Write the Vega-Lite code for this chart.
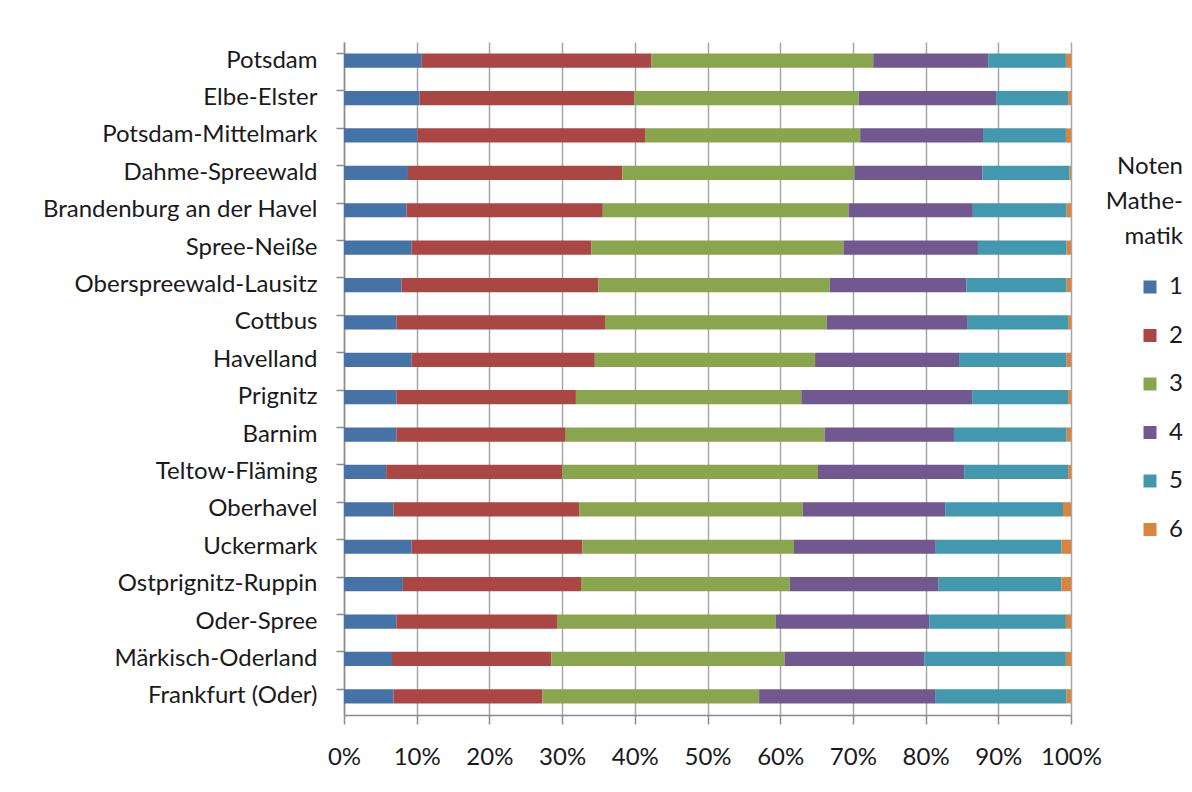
{
  "$schema": "https://vega.github.io/schema/vega-lite/v6.json",
  "width": 727,
  "height": 673,
  "autosize": "none",
  "padding": {"left": 344, "top": 42, "right": 121, "bottom": 77},
  "background": "white",
  "datasets": {
    "noten": [
      {"Kreis": "Potsdam", "Note": "1", "Anteil": 10.7}, {"Kreis": "Potsdam", "Note": "2", "Anteil": 31.6}, {"Kreis": "Potsdam", "Note": "3", "Anteil": 30.5}, {"Kreis": "Potsdam", "Note": "4", "Anteil": 15.8}, {"Kreis": "Potsdam", "Note": "5", "Anteil": 10.7}, {"Kreis": "Potsdam", "Note": "6", "Anteil": 0.7},
      {"Kreis": "Elbe-Elster", "Note": "1", "Anteil": 10.4}, {"Kreis": "Elbe-Elster", "Note": "2", "Anteil": 29.5}, {"Kreis": "Elbe-Elster", "Note": "3", "Anteil": 30.9}, {"Kreis": "Elbe-Elster", "Note": "4", "Anteil": 18.9}, {"Kreis": "Elbe-Elster", "Note": "5", "Anteil": 9.9}, {"Kreis": "Elbe-Elster", "Note": "6", "Anteil": 0.4},
      {"Kreis": "Potsdam-Mittelmark", "Note": "1", "Anteil": 10.1}, {"Kreis": "Potsdam-Mittelmark", "Note": "2", "Anteil": 31.3}, {"Kreis": "Potsdam-Mittelmark", "Note": "3", "Anteil": 29.6}, {"Kreis": "Potsdam-Mittelmark", "Note": "4", "Anteil": 16.9}, {"Kreis": "Potsdam-Mittelmark", "Note": "5", "Anteil": 11.4}, {"Kreis": "Potsdam-Mittelmark", "Note": "6", "Anteil": 0.7},
      {"Kreis": "Dahme-Spreewald", "Note": "1", "Anteil": 8.8}, {"Kreis": "Dahme-Spreewald", "Note": "2", "Anteil": 29.5}, {"Kreis": "Dahme-Spreewald", "Note": "3", "Anteil": 31.9}, {"Kreis": "Dahme-Spreewald", "Note": "4", "Anteil": 17.6}, {"Kreis": "Dahme-Spreewald", "Note": "5", "Anteil": 12.0}, {"Kreis": "Dahme-Spreewald", "Note": "6", "Anteil": 0.2},
      {"Kreis": "Brandenburg an der Havel", "Note": "1", "Anteil": 8.6}, {"Kreis": "Brandenburg an der Havel", "Note": "2", "Anteil": 27.0}, {"Kreis": "Brandenburg an der Havel", "Note": "3", "Anteil": 33.8}, {"Kreis": "Brandenburg an der Havel", "Note": "4", "Anteil": 17.1}, {"Kreis": "Brandenburg an der Havel", "Note": "5", "Anteil": 12.9}, {"Kreis": "Brandenburg an der Havel", "Note": "6", "Anteil": 0.6},
      {"Kreis": "Spree-Neiße", "Note": "1", "Anteil": 9.3}, {"Kreis": "Spree-Neiße", "Note": "2", "Anteil": 24.7}, {"Kreis": "Spree-Neiße", "Note": "3", "Anteil": 34.7}, {"Kreis": "Spree-Neiße", "Note": "4", "Anteil": 18.5}, {"Kreis": "Spree-Neiße", "Note": "5", "Anteil": 12.2}, {"Kreis": "Spree-Neiße", "Note": "6", "Anteil": 0.6},
      {"Kreis": "Oberspreewald-Lausitz", "Note": "1", "Anteil": 7.9}, {"Kreis": "Oberspreewald-Lausitz", "Note": "2", "Anteil": 27.1}, {"Kreis": "Oberspreewald-Lausitz", "Note": "3", "Anteil": 31.8}, {"Kreis": "Oberspreewald-Lausitz", "Note": "4", "Anteil": 18.8}, {"Kreis": "Oberspreewald-Lausitz", "Note": "5", "Anteil": 13.8}, {"Kreis": "Oberspreewald-Lausitz", "Note": "6", "Anteil": 0.6},
      {"Kreis": "Cottbus", "Note": "1", "Anteil": 7.2}, {"Kreis": "Cottbus", "Note": "2", "Anteil": 28.7}, {"Kreis": "Cottbus", "Note": "3", "Anteil": 30.5}, {"Kreis": "Cottbus", "Note": "4", "Anteil": 19.4}, {"Kreis": "Cottbus", "Note": "5", "Anteil": 13.8}, {"Kreis": "Cottbus", "Note": "6", "Anteil": 0.4},
      {"Kreis": "Havelland", "Note": "1", "Anteil": 9.3}, {"Kreis": "Havelland", "Note": "2", "Anteil": 25.2}, {"Kreis": "Havelland", "Note": "3", "Anteil": 30.3}, {"Kreis": "Havelland", "Note": "4", "Anteil": 19.8}, {"Kreis": "Havelland", "Note": "5", "Anteil": 14.8}, {"Kreis": "Havelland", "Note": "6", "Anteil": 0.6},
      {"Kreis": "Prignitz", "Note": "1", "Anteil": 7.2}, {"Kreis": "Prignitz", "Note": "2", "Anteil": 24.7}, {"Kreis": "Prignitz", "Note": "3", "Anteil": 31.0}, {"Kreis": "Prignitz", "Note": "4", "Anteil": 23.5}, {"Kreis": "Prignitz", "Note": "5", "Anteil": 13.2}, {"Kreis": "Prignitz", "Note": "6", "Anteil": 0.4},
      {"Kreis": "Barnim", "Note": "1", "Anteil": 7.2}, {"Kreis": "Barnim", "Note": "2", "Anteil": 23.3}, {"Kreis": "Barnim", "Note": "3", "Anteil": 35.6}, {"Kreis": "Barnim", "Note": "4", "Anteil": 17.8}, {"Kreis": "Barnim", "Note": "5", "Anteil": 15.5}, {"Kreis": "Barnim", "Note": "6", "Anteil": 0.6},
      {"Kreis": "Teltow-Fläming", "Note": "1", "Anteil": 5.8}, {"Kreis": "Teltow-Fläming", "Note": "2", "Anteil": 24.2}, {"Kreis": "Teltow-Fläming", "Note": "3", "Anteil": 35.2}, {"Kreis": "Teltow-Fläming", "Note": "4", "Anteil": 20.1}, {"Kreis": "Teltow-Fläming", "Note": "5", "Anteil": 14.3}, {"Kreis": "Teltow-Fläming", "Note": "6", "Anteil": 0.4},
      {"Kreis": "Oberhavel", "Note": "1", "Anteil": 6.8}, {"Kreis": "Oberhavel", "Note": "2", "Anteil": 25.6}, {"Kreis": "Oberhavel", "Note": "3", "Anteil": 30.7}, {"Kreis": "Oberhavel", "Note": "4", "Anteil": 19.6}, {"Kreis": "Oberhavel", "Note": "5", "Anteil": 16.2}, {"Kreis": "Oberhavel", "Note": "6", "Anteil": 1.1},
      {"Kreis": "Uckermark", "Note": "1", "Anteil": 9.3}, {"Kreis": "Uckermark", "Note": "2", "Anteil": 23.5}, {"Kreis": "Uckermark", "Note": "3", "Anteil": 29.1}, {"Kreis": "Uckermark", "Note": "4", "Anteil": 19.5}, {"Kreis": "Uckermark", "Note": "5", "Anteil": 17.3}, {"Kreis": "Uckermark", "Note": "6", "Anteil": 1.3},
      {"Kreis": "Ostprignitz-Ruppin", "Note": "1", "Anteil": 8.1}, {"Kreis": "Ostprignitz-Ruppin", "Note": "2", "Anteil": 24.5}, {"Kreis": "Ostprignitz-Ruppin", "Note": "3", "Anteil": 28.7}, {"Kreis": "Ostprignitz-Ruppin", "Note": "4", "Anteil": 20.5}, {"Kreis": "Ostprignitz-Ruppin", "Note": "5", "Anteil": 16.9}, {"Kreis": "Ostprignitz-Ruppin", "Note": "6", "Anteil": 1.3},
      {"Kreis": "Oder-Spree", "Note": "1", "Anteil": 7.2}, {"Kreis": "Oder-Spree", "Note": "2", "Anteil": 22.1}, {"Kreis": "Oder-Spree", "Note": "3", "Anteil": 30.1}, {"Kreis": "Oder-Spree", "Note": "4", "Anteil": 21.1}, {"Kreis": "Oder-Spree", "Note": "5", "Anteil": 18.8}, {"Kreis": "Oder-Spree", "Note": "6", "Anteil": 0.7},
      {"Kreis": "Märkisch-Oderland", "Note": "1", "Anteil": 6.6}, {"Kreis": "Märkisch-Oderland", "Note": "2", "Anteil": 21.9}, {"Kreis": "Märkisch-Oderland", "Note": "3", "Anteil": 32.1}, {"Kreis": "Märkisch-Oderland", "Note": "4", "Anteil": 19.2}, {"Kreis": "Märkisch-Oderland", "Note": "5", "Anteil": 19.5}, {"Kreis": "Märkisch-Oderland", "Note": "6", "Anteil": 0.7},
      {"Kreis": "Frankfurt (Oder)", "Note": "1", "Anteil": 6.8}, {"Kreis": "Frankfurt (Oder)", "Note": "2", "Anteil": 20.5}, {"Kreis": "Frankfurt (Oder)", "Note": "3", "Anteil": 29.8}, {"Kreis": "Frankfurt (Oder)", "Note": "4", "Anteil": 24.2}, {"Kreis": "Frankfurt (Oder)", "Note": "5", "Anteil": 18.1}, {"Kreis": "Frankfurt (Oder)", "Note": "6", "Anteil": 0.6}
    ]
  },
  "data": {"name": "noten"},
  "config": {
    "view": {"stroke": null},
    "font": "Lato"
  },
  "mark": {"type": "bar"},
  "encoding": {
    "y": {
      "field": "Kreis",
      "type": "nominal",
      "sort": ["Potsdam", "Elbe-Elster", "Potsdam-Mittelmark", "Dahme-Spreewald", "Brandenburg an der Havel", "Spree-Neiße", "Oberspreewald-Lausitz", "Cottbus", "Havelland", "Prignitz", "Barnim", "Teltow-Fläming", "Oberhavel", "Uckermark", "Ostprignitz-Ruppin", "Oder-Spree", "Märkisch-Oderland", "Frankfurt (Oder)"],
      "scale": {"paddingInner": 0.62, "paddingOuter": 0.31},
      "axis": {
        "title": null,
        "bandPosition": 0,
        "grid": false,
        "domainColor": "#8c8c8c",
        "domainWidth": 1.5,
        "tickColor": "#8c8c8c",
        "tickWidth": 1.5,
        "tickSize": 8,
        "labelPadding": 19,
        "labelFont": "Lato",
        "labelFontSize": 24,
        "labelLimit": 0,
        "labelColor": "#1a1a1a"
      }
    },
    "x": {
      "field": "Anteil",
      "type": "quantitative",
      "stack": "normalize",
      "scale": {"domain": [0, 1], "nice": false},
      "axis": {
        "title": null,
        "format": ".0%",
        "values": [0, 0.1, 0.2, 0.3, 0.4, 0.5, 0.6, 0.7, 0.8, 0.9, 1],
        "grid": true,
        "gridColor": "#a6a6a6",
        "gridWidth": 1.5,
        "domainColor": "#8c8c8c",
        "domainWidth": 1.5,
        "tickColor": "#8c8c8c",
        "tickWidth": 1.5,
        "tickSize": 9,
        "labelPadding": 21,
        "labelFont": "Lato",
        "labelFontSize": 24,
        "labelColor": "#1a1a1a",
        "labelFlush": false
      }
    },
    "color": {
      "field": "Note",
      "type": "nominal",
      "scale": {
        "domain": ["1", "2", "3", "4", "5", "6"],
        "range": ["#4572A7", "#AA4643", "#89A54E", "#71588F", "#4198AF", "#DB843D"]
      },
      "legend": {
        "orient": "none",
        "legendX": 752,
        "legendY": 113,
        "title": ["Noten", "Mathe-", "matik"],
        "titleFont": "Lato",
        "titleFontSize": 24,
        "titleFontWeight": "normal",
        "titleColor": "#1a1a1a",
        "titleLineHeight": 35,
        "titleAlign": "right",
        "titleAnchor": "end",
        "titlePadding": 26,
        "symbolType": "square",
        "symbolSize": 169,
        "symbolStrokeWidth": 0,
        "symbolOffset": 42,
        "labelFont": "Lato",
        "labelFontSize": 24,
        "labelColor": "#1a1a1a",
        "labelOffset": 7,
        "rowPadding": 24.5
      }
    },
    "order": {"field": "Note"}
  }
}
